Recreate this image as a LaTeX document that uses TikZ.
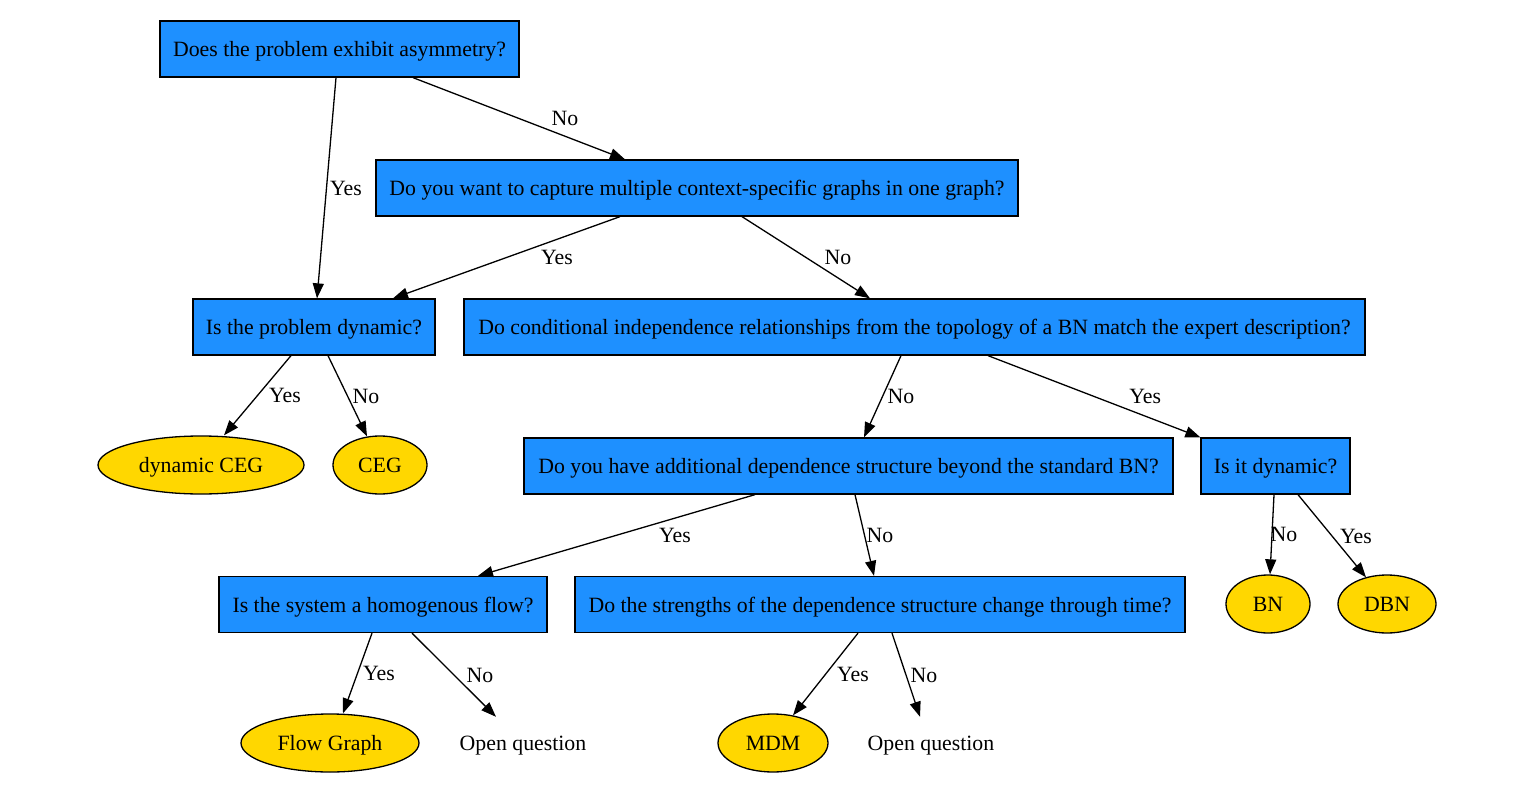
\documentclass[tikz,border=0pt]{standalone}
\usepackage{fontspec}
\setmainfont{Liberation Serif}
\usetikzlibrary{arrows.meta, shapes.geometric}
\definecolor{qblue}{RGB}{30,144,255}
\definecolor{ansgold}{RGB}{255,215,0}

\begin{document}
\begin{tikzpicture}[x=1pt, y=-1pt, >={Triangle[length=15pt, width=11pt]}, font=\fontsize{21.8}{26}\selectfont]

		% --- Stili ---
		\tikzset{
			question/.style={draw=black, fill=qblue, line width=1.3pt, minimum height=56pt, inner sep=0pt, text height=19pt, text depth=4pt},
			answer/.style={ellipse, draw=black, fill=ansgold, line width=1.3pt, minimum height=58pt, inner sep=0pt, text height=19pt, text depth=4pt},
			open/.style={minimum height=52pt, inner sep=0pt, text height=19pt, text depth=4pt},
			edge/.style={->, line width=1.3pt},
			lbl/.style={midway, inner sep=0pt}
		}

		\useasboundingbox (0,0) rectangle (1533,791);

		% --- Domande ---
		\node[question, minimum width=359pt] (asym) at (339.5,49) {Does the problem exhibit asymmetry?};
		\node[question, minimum width=642pt] (context) at (697,188) {Do you want to capture multiple context-specific graphs in one graph?};
		\node[question, minimum width=242pt] (dynCEG) at (314,327) {Is the problem dynamic?};
		\node[question, minimum width=901pt] (indep) at (914.5,327) {Do conditional independence relationships from the topology of a BN match the expert description?};
		\node[question, minimum width=649pt] (extra) at (848.5,466) {Do you have additional dependence structure beyond the standard BN?};
		\node[question, minimum width=149pt] (dynBN) at (1275.5,466) {Is it dynamic?};
		\node[question, minimum width=328pt] (flow) at (383,604.5) {Is the system a homogenous flow?};
		\node[question, minimum width=610pt] (strength) at (880,604.5) {Do the strengths of the dependence structure change through time?};

		% --- Risposte ---
		\node[answer, minimum width=206pt] (dceg) at (201,465) {dynamic CEG};
		\node[answer, minimum width=94pt] (ceg) at (380,465) {CEG};
		\node[answer, minimum width=84pt] (bn) at (1268,604) {BN};
		\node[answer, minimum width=98pt] (dbn) at (1387,604) {DBN};
		\node[answer, minimum width=178pt] (fg) at (330,743) {Flow Graph};
		\node[open] (openA) at (523,743) {Open question};
		\node[answer, minimum width=110pt] (mdm) at (773,743) {MDM};
		\node[open] (openB) at (931,743) {Open question};

		% --- Archi ---
		\draw[edge] ([xshift=-3.5]asym.south) -- ([xshift=3]dynCEG.north) node[lbl, xshift=19.5] {Yes};
		\draw[edge] ([xshift=73.5]asym.south) -- ([xshift=-72]context.north) node[lbl, xshift=46] {No};
		\draw[edge] ([xshift=-77]context.south) -- ([xshift=79]dynCEG.north) node[lbl, xshift=50.5] {Yes};
		\draw[edge] ([xshift=45]context.south) -- ([xshift=-44.5]indep.north) node[lbl, xshift=32] {No};
		\draw[edge] ([xshift=-23]dynCEG.south) -- ([xshift=23]dceg.north) node[lbl, xshift=27.5] {Yes};
		\draw[edge] ([xshift=14]dynCEG.south) -- ([xshift=-13,yshift=-1]ceg.north) node[lbl, xshift=18.5] {No};
		\draw[edge] ([xshift=-13.5]indep.south) -- ([xshift=15.5]extra.north) node[lbl, xshift=18.5] {No};
		\draw[edge] ([xshift=73.5]indep.south) -- (dynBN.north west) node[lbl, xshift=51] {Yes};
		\draw[edge] ([xshift=-93.5]extra.south) -- ([xshift=95]flow.north) node[lbl, xshift=58.5] {Yes};
		\draw[edge] ([xshift=6.5]extra.south) -- ([xshift=-6]strength.north) node[lbl, xshift=15.5] {No};
		\draw[edge] ([xshift=-1.5]dynBN.south) -- ([xshift=2]bn.north) node[lbl, xshift=12] {No};
		\draw[edge] ([xshift=22.5]dynBN.south) -- ([xshift=-21,yshift=-3]dbn.north) node[lbl, xshift=24] {Yes};
		\draw[edge] ([xshift=-11]flow.south) -- ([xshift=13]fg.north) node[lbl, xshift=21.5] {Yes};
		\draw[edge] ([xshift=29]flow.south) -- ([xshift=-27]openA.north) node[lbl, xshift=26] {No};
		\draw[edge] ([xshift=-22]strength.south) -- ([xshift=20,yshift=-2]mdm.north) node[lbl, xshift=27.5] {Yes};
		\draw[edge] ([xshift=12]strength.south) -- ([xshift=-11]openB.north) node[lbl, xshift=18] {No};

\end{tikzpicture}
\end{document}
